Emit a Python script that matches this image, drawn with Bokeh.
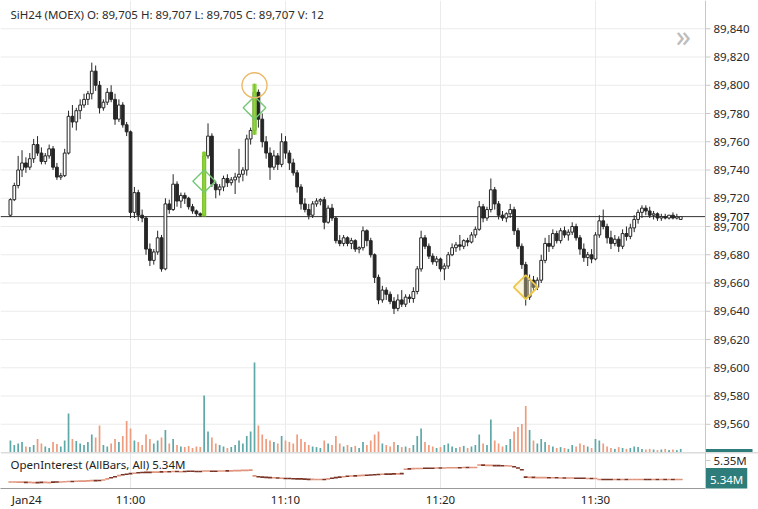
import numpy as np
import pandas as pd
from bokeh.plotting import figure
from bokeh.layouts import column
from bokeh.models import (ColumnDataSource, Range1d, FixedTicker, Span, Label, BoxAnnotation,
                          CustomJSTickFormatter)
from bokeh.core.properties import value
from bokeh.embed import file_html
from bokeh.resources import INLINE

# ---------------- data (15-second bars, SiH24 MOEX, Jan 24) ----------------
bar_start = "2024-01-24 10:52:15"
bar_freq = "15s"

opens = [
    89708, 89719, 89729, 89740, 89745, 89742, 89748, 89758, 89752, 89746,
    89750, 89755, 89742, 89735, 89736, 89752, 89778, 89774, 89782, 89786,
    89790, 89794, 89810, 89800, 89784, 89788, 89795, 89790, 89776, 89786,
    89772, 89767, 89710, 89724, 89708, 89706, 89684, 89676, 89682, 89692,
    89670, 89716, 89712, 89730, 89718, 89722, 89720, 89714, 89711, 89709,
    89708, 89750, 89764, 89730, 89726, 89728, 89734, 89731, 89733, 89735,
    89737, 89740, 89762, 89768, 89795, 89776, 89760, 89752, 89742, 89750,
    89744, 89760, 89752, 89745, 89738, 89728, 89716, 89712, 89708, 89716,
    89718, 89719, 89703, 89713, 89706, 89690, 89688, 89692, 89688, 89690,
    89684, 89685, 89697, 89690, 89680, 89664, 89648, 89655, 89652, 89647,
    89642, 89648, 89645, 89650, 89649, 89654, 89670, 89692, 89686, 89679,
    89675, 89677, 89670, 89672, 89680, 89685, 89687, 89686, 89690, 89689,
    89694, 89698, 89714, 89706, 89712, 89726, 89716, 89708, 89706, 89709,
    89712, 89697, 89686, 89673, 89650, 89662, 89657, 89662, 89676, 89688,
    89686, 89695, 89690, 89697, 89694, 89696, 89700, 89692, 89684, 89678,
    89680, 89677, 89694, 89704, 89700, 89692, 89688, 89691, 89686, 89695,
    89693, 89699, 89705, 89710, 89713, 89711, 89708, 89709, 89706, 89707,
    89706, 89708, 89706, 89705,
]
highs = [
    89720, 89731, 89750, 89754, 89749, 89752, 89762, 89764, 89756, 89752,
    89758, 89757, 89745, 89738, 89755, 89782, 89786, 89784, 89790, 89794,
    89796, 89816, 89814, 89803, 89790, 89798, 89800, 89794, 89790, 89788,
    89774, 89768, 89728, 89726, 89712, 89707, 89688, 89684, 89697, 89694,
    89720, 89719, 89737, 89732, 89724, 89724, 89721, 89716, 89712, 89710,
    89753, 89773, 89766, 89732, 89730, 89736, 89737, 89735, 89738, 89755,
    89742, 89765, 89770, 89801, 89797, 89780, 89764, 89756, 89754, 89752,
    89766, 89764, 89754, 89748, 89740, 89730, 89720, 89716, 89718, 89720,
    89720, 89721, 89715, 89716, 89707, 89694, 89694, 89693, 89692, 89691,
    89686, 89700, 89698, 89692, 89681, 89666, 89658, 89657, 89654, 89650,
    89652, 89655, 89652, 89652, 89657, 89672, 89697, 89694, 89688, 89681,
    89679, 89678, 89674, 89682, 89688, 89689, 89694, 89691, 89692, 89696,
    89700, 89718, 89716, 89714, 89734, 89728, 89718, 89711, 89710, 89716,
    89714, 89699, 89688, 89675, 89666, 89665, 89664, 89680, 89692, 89694,
    89698, 89697, 89699, 89700, 89698, 89703, 89702, 89694, 89688, 89682,
    89684, 89696, 89708, 89712, 89702, 89697, 89694, 89693, 89698, 89700,
    89702, 89708, 89712, 89715, 89715, 89714, 89711, 89710, 89709, 89709,
    89708, 89710, 89709, 89707,
]
lows = [
    89707, 89718, 89727, 89735, 89738, 89740, 89745, 89750, 89744, 89744,
    89748, 89740, 89733, 89733, 89735, 89751, 89770, 89768, 89776, 89784,
    89786, 89790, 89796, 89780, 89782, 89786, 89788, 89772, 89774, 89770,
    89764, 89706, 89706, 89704, 89703, 89680, 89672, 89673, 89680, 89668,
    89669, 89709, 89711, 89714, 89713, 89716, 89712, 89709, 89707, 89707,
    89707, 89748, 89728, 89720, 89722, 89725, 89728, 89729, 89723, 89731,
    89732, 89736, 89758, 89765, 89770, 89756, 89748, 89733, 89740, 89740,
    89742, 89748, 89740, 89736, 89724, 89712, 89710, 89705, 89706, 89714,
    89715, 89698, 89702, 89704, 89688, 89686, 89686, 89686, 89684, 89682,
    89681, 89683, 89686, 89678, 89660, 89645, 89646, 89648, 89645, 89638,
    89640, 89643, 89643, 89646, 89646, 89652, 89668, 89684, 89677, 89673,
    89672, 89668, 89662, 89670, 89679, 89682, 89683, 89684, 89686, 89688,
    89692, 89697, 89703, 89704, 89710, 89712, 89705, 89704, 89703, 89706,
    89694, 89684, 89670, 89644, 89648, 89654, 89655, 89660, 89674, 89682,
    89684, 89688, 89688, 89692, 89690, 89694, 89690, 89680, 89675, 89672,
    89674, 89676, 89692, 89698, 89688, 89684, 89686, 89682, 89684, 89690,
    89691, 89696, 89702, 89706, 89708, 89706, 89705, 89704, 89704, 89705,
    89705, 89705, 89705, 89705,
]
closes = [
    89719, 89729, 89740, 89745, 89742, 89748, 89758, 89752, 89746, 89750,
    89755, 89742, 89735, 89736, 89752, 89778, 89774, 89782, 89786, 89790,
    89794, 89810, 89800, 89784, 89788, 89795, 89790, 89776, 89786, 89772,
    89767, 89710, 89724, 89708, 89706, 89684, 89676, 89682, 89692, 89670,
    89716, 89712, 89730, 89718, 89722, 89720, 89714, 89711, 89709, 89708,
    89750, 89764, 89730, 89726, 89728, 89734, 89731, 89733, 89735, 89737,
    89740, 89762, 89768, 89795, 89776, 89760, 89752, 89742, 89750, 89744,
    89760, 89752, 89745, 89738, 89728, 89716, 89712, 89708, 89716, 89718,
    89719, 89703, 89713, 89706, 89690, 89688, 89692, 89688, 89690, 89684,
    89685, 89697, 89690, 89680, 89664, 89648, 89655, 89652, 89647, 89642,
    89648, 89645, 89650, 89649, 89654, 89670, 89692, 89686, 89679, 89675,
    89677, 89670, 89672, 89680, 89685, 89687, 89686, 89690, 89689, 89694,
    89698, 89714, 89706, 89712, 89726, 89716, 89708, 89706, 89709, 89712,
    89697, 89686, 89673, 89650, 89662, 89657, 89662, 89676, 89688, 89686,
    89695, 89690, 89697, 89694, 89696, 89700, 89692, 89684, 89678, 89680,
    89677, 89694, 89704, 89700, 89692, 89688, 89691, 89686, 89695, 89693,
    89699, 89705, 89710, 89713, 89711, 89708, 89709, 89706, 89707, 89706,
    89708, 89706, 89707, 89707,
]
volumes = [
    40, 25, 30, 35, 20, 18, 25, 45, 30, 20,
    15, 35, 28, 20, 40, 130, 45, 38, 30, 25,
    35, 60, 50, 90, 25, 20, 30, 45, 35, 55,
    105, 80, 40, 35, 25, 60, 45, 30, 40, 50,
    75, 30, 45, 25, 20, 18, 22, 15, 20, 18,
    190, 70, 50, 30, 25, 20, 15, 18, 25, 40,
    30, 55, 70, 300, 90, 60, 45, 40, 35, 30,
    55, 40, 35, 30, 60, 45, 35, 25, 20, 18,
    15, 40, 30, 25, 55, 30, 20, 25, 18, 22,
    15, 35, 25, 40, 60, 70, 30, 25, 20, 35,
    25, 18, 20, 15, 25, 55, 80, 35, 25, 20,
    15, 18, 25, 30, 20, 15, 18, 22, 15, 20,
    25, 60, 30, 25, 110, 40, 30, 20, 25, 45,
    70, 85, 95, 155, 75, 40, 30, 45, 35, 25,
    20, 15, 18, 15, 12, 25, 20, 30, 25, 20,
    15, 45, 40, 30, 20, 15, 12, 18, 15, 12,
    15, 20, 18, 12, 10, 12, 10, 8, 10, 12,
    8, 10, 8, 12,
]
open_interest_m = [
    5.3402, 5.3402, 5.3401, 5.3401, 5.3400, 5.3400, 5.3399, 5.3399, 5.3400, 5.3400,
    5.3399, 5.3401, 5.3402, 5.3402, 5.3403, 5.3404, 5.3404, 5.3405, 5.3406, 5.3406,
    5.3407, 5.3408, 5.3408, 5.3409, 5.3411, 5.3416, 5.3421, 5.3426, 5.3431, 5.3435,
    5.3437, 5.3440, 5.3442, 5.3444, 5.3445, 5.3446, 5.3446, 5.3447, 5.3447, 5.3448,
    5.3449, 5.3449, 5.3450, 5.3450, 5.3449, 5.3450, 5.3451, 5.3451, 5.3450, 5.3450,
    5.3452, 5.3452, 5.3451, 5.3451, 5.3452, 5.3452, 5.3453, 5.3453, 5.3454, 5.3454,
    5.3455, 5.3455, 5.3456,
    5.3430, 5.3426, 5.3424, 5.3423, 5.3422, 5.3421, 5.3420,
    5.3419, 5.3418, 5.3418, 5.3417, 5.3416, 5.3416, 5.3415, 5.3414, 5.3414, 5.3413, 5.3413, 5.3413,
    5.3416, 5.3419, 5.3422, 5.3424, 5.3426, 5.3428, 5.3429, 5.3430, 5.3431, 5.3432,
    5.3433, 5.3434, 5.3435, 5.3436, 5.3437,
    5.3438, 5.3438, 5.3439, 5.3439, 5.3440,
    5.3460, 5.3462, 5.3463, 5.3464, 5.3464, 5.3465, 5.3465, 5.3465, 5.3466, 5.3466,
    5.3466, 5.3467, 5.3467, 5.3467, 5.3467, 5.3468, 5.3468, 5.3468, 5.3468,
    5.3480, 5.3479, 5.3478, 5.3478, 5.3477, 5.3477, 5.3476, 5.3476, 5.3475,
    5.3472, 5.3466, 5.3458,
    5.3424, 5.3423, 5.3423, 5.3422, 5.3422, 5.3422, 5.3421, 5.3421, 5.3421, 5.3420,
    5.3420, 5.3420, 5.3420, 5.3419, 5.3419, 5.3419, 5.3418, 5.3418, 5.3418,
    5.3413, 5.3413, 5.3413, 5.3413, 5.3413, 5.3413, 5.3413, 5.3413, 5.3413, 5.3413, 5.3413,
    5.3413, 5.3413, 5.3413, 5.3413, 5.3413, 5.3413, 5.3413, 5.3413, 5.3413, 5.3413, 5.3413,
]

# signal markers: bar index and price
signal_bars = [50, 63]                 # green highlighted bars
green_diamond_bars = [50, 63]
green_diamond_prices = [89732, 89784]
circle_bars = [63]
circle_prices = [89800]
yellow_diamond_bars = [133]
yellow_diamond_prices = [89657]
last_price = 89707
last_price_label = "89,707"

price_ticks = [89560, 89580, 89600, 89620, 89640, 89660, 89680, 89700,
               89720, 89740, 89760, 89780, 89800, 89820, 89840]
time_ticks = [0, 10, 20, 30]           # minutes after 11:00
date_tick = [-6.7]                     # where the "Jan24" date label sits
oi_ticks = [5.35]
oi_last_label = "5.34M"
title_text = "SiH24 (MOEX)  O: 89,705  H: 89,707  L: 89,705  C: 89,707  V: 12"
oi_title = "OpenInterest (AllBars, All)  5.34M"

# ---------------- derived ----------------
n = len(closes)
times = pd.date_range(bar_start, periods=n, freq=bar_freq)
xm = ((times - pd.Timestamp("2024-01-24 11:00:00")).total_seconds() / 60.0).to_numpy()
o = np.array(opens); h = np.array(highs); lo = np.array(lows); c = np.array(closes)
up = c >= o
FONT = "Noto Sans"
TEAL = "#5fa8a8"
SALMON = "#ef9c7e"
AXIS_GREY = "#c8c8c8"
BOX_TEAL = "#2e7d7a"

src = ColumnDataSource(dict(
    x=xm, o=o, h=h, l=lo, c=c,
    top=np.maximum(o, c), bottom=np.minimum(o, c),
    fill=np.where(up, "#ffffff", "#262626"),
    vol=np.array(volumes), vcol=np.where(up, TEAL, SALMON),
    oi=np.array(open_interest_m), oicol=np.where(up, "#e0947c", "#7a3426"),
))

W = 758
AXIS_PX = 705                          # pixel position of the value axis
X0, X1 = -8.39, 37.1                   # time span left of the value axis (minutes)
PXPM = AXIS_PX / (X1 - X0)             # pixels per minute
X_END = X0 + W / PXPM                  # frames cover the full width
XR = Range1d(X0, X_END)
TICK = 5 / PXPM
LBL = 8 / PXPM

# ---------------- price panel ----------------
p = figure(width=W, height=452, output_backend="svg", toolbar_location=None,
           x_range=XR, y_range=Range1d(89540, 89860),
           x_axis_location=None, y_axis_location=None,
           min_border_left=0, min_border_right=0, min_border_top=0, min_border_bottom=0)
p.outline_line_color = None
p.background_fill_color = "white"
p.border_fill_color = "white"
p.extra_y_ranges = {"vol": Range1d(0, 1507)}
p.ygrid.grid_line_color = None
p.xgrid.ticker = FixedTicker(ticks=time_ticks)
p.xgrid.grid_line_color = "#ebebeb"

# horizontal grid, value axis (line, ticks, labels)
k = len(price_ticks)
p.segment(x0=[X0] * k, x1=[X1] * k, y0=price_ticks, y1=price_ticks,
          line_color="#ebebeb", line_width=1)
p.add_layout(Span(location=X1, dimension="height", line_color=AXIS_GREY, line_width=1))
p.segment(x0=[X1] * k, x1=[X1 + TICK] * k, y0=price_ticks, y1=price_ticks,
          line_color=AXIS_GREY, line_width=1)
p.text(x=[X1 + LBL] * k, y=price_ticks, text=[f"{t:,}" for t in price_ticks],
       text_font=value(FONT), text_font_size=value("11.5px"), text_color="#2a2a2a",
       text_baseline="middle", text_align="left")

# volume
p.vbar(x="x", top="vol", bottom=0, width=0.11, fill_color="vcol", line_color=None,
       y_range_name="vol", source=src)

# last price line
p.segment(x0=[X0], x1=[X1], y0=[last_price], y1=[last_price], line_color="#333333", line_width=1)

# candles
p.segment(x0="x", y0="h", x1="x", y1="l", line_color="#262626", line_width=1, source=src)
p.vbar(x="x", width=0.18, top="top", bottom="bottom", fill_color="fill",
       line_color="#262626", line_width=1, source=src)

# highlighted signal bars
p.vbar(x=xm[signal_bars], top=h[signal_bars], bottom=lo[signal_bars], width=0.27,
       fill_color="#84d12a", line_color=None, fill_alpha=0.92)

# markers
p.scatter(x=xm[green_diamond_bars], y=green_diamond_prices, marker="square", angle=np.pi / 4,
          size=16, fill_color=None, line_color="#74c874", line_width=1.4)
p.scatter(x=xm[circle_bars], y=circle_prices, marker="circle", size=25,
          fill_color=None, line_color="#ebb967", line_width=1.4)
p.scatter(x=xm[yellow_diamond_bars], y=yellow_diamond_prices, marker="square", angle=np.pi / 4,
          size=17, fill_color="#f6e6a8", fill_alpha=0.35, line_color="#ecc84a", line_width=1.8)

# texts
p.add_layout(Label(x=X0 + 10 / PXPM, y=89850, text=title_text, text_font=FONT,
                   text_font_size="11.5px", text_color="#2b2b2b", text_baseline="middle",
                   text_align="left"))
p.add_layout(Label(x=X0 + 683 / PXPM, y=89835, text="»", text_font=FONT, text_font_size="30px",
                   text_color="#bdbdbd", text_baseline="middle", text_align="center"))
p.add_layout(Label(x=X1 + LBL, y=last_price, text=last_price_label, text_font=FONT,
                   text_font_size="11.5px", text_color="#111111", text_baseline="middle",
                   text_align="left", background_fill_color="white", padding=0))
# sliver of a value box peeking above the panel foot
p.add_layout(BoxAnnotation(left=X1 + 0.5 / PXPM, right=X1 + 47 / PXPM, bottom=89540,
                           top=89540 + 3.5 * 320 / 452, fill_color=BOX_TEAL, fill_alpha=1,
                           line_color=None))

# ---------------- open interest panel ----------------
p2 = figure(width=W, height=57, output_backend="svg", toolbar_location=None,
            x_range=XR, y_range=Range1d(5.3372, 5.3537), y_axis_location=None,
            min_border_left=0, min_border_right=0, min_border_top=0, min_border_bottom=21)
p2.outline_line_color = None
p2.background_fill_color = "white"
p2.border_fill_color = "white"
p2.ygrid.grid_line_color = None
p2.xgrid.ticker = FixedTicker(ticks=time_ticks)
p2.xgrid.grid_line_color = "#e6e6e6"

xa = p2.xaxis[0]
xa.ticker = FixedTicker(ticks=date_tick + time_ticks)
xa.formatter = CustomJSTickFormatter(
    code="if (tick < 0) { return 'Jan24'; } const m = Math.round(tick); return '11:' + String(m).padStart(2, '0');")
xa.bounds = (X0, X1)
xa.major_label_text_font = FONT
xa.major_label_text_font_size = "11.5px"
xa.major_label_text_color = "#222222"
xa.axis_line_color = "#9a9a9a"
xa.major_tick_line_color = None
xa.minor_tick_line_color = None
xa.major_tick_out = 0
xa.major_tick_in = 0
xa.minor_tick_out = 0
xa.minor_tick_in = 0
xa.major_label_standoff = 3

# top separator and right-hand value axis of the OI panel
p2.add_layout(Span(location=5.3536, dimension="width", line_color="#a8a8a8", line_width=1))
p2.add_layout(Span(location=X1, dimension="height", line_color=AXIS_GREY, line_width=1))
m = len(oi_ticks)
p2.segment(x0=[X1] * m, x1=[X1 + TICK] * m, y0=oi_ticks, y1=oi_ticks,
           line_color=AXIS_GREY, line_width=1)
p2.text(x=[X1 + LBL] * m, y=oi_ticks, text=[f"{t:.2f}M" for t in oi_ticks],
        text_font=value(FONT), text_font_size=value("11.5px"), text_color="#2a2a2a",
        text_baseline="middle", text_align="left")

p2.scatter(x="x", y="oi", marker="dash", size=4, line_color="oicol", line_width=1.6, source=src)

p2.add_layout(Label(x=X0 + 10 / PXPM, y=5.3481, text=oi_title, text_font=FONT,
                    text_font_size="11.5px", text_color="#222222", text_baseline="middle",
                    text_align="left"))
p2.add_layout(Label(x=X1 + 0.5 / PXPM, y=open_interest_m[-1], text=oi_last_label, text_font=FONT,
                    text_font_size="11.5px", text_color="white", text_baseline="middle",
                    text_align="left", background_fill_color=BOX_TEAL, padding=4))

layout = column(p, p2, spacing=0)
open("out.html", "w").write(file_html(layout, INLINE))
